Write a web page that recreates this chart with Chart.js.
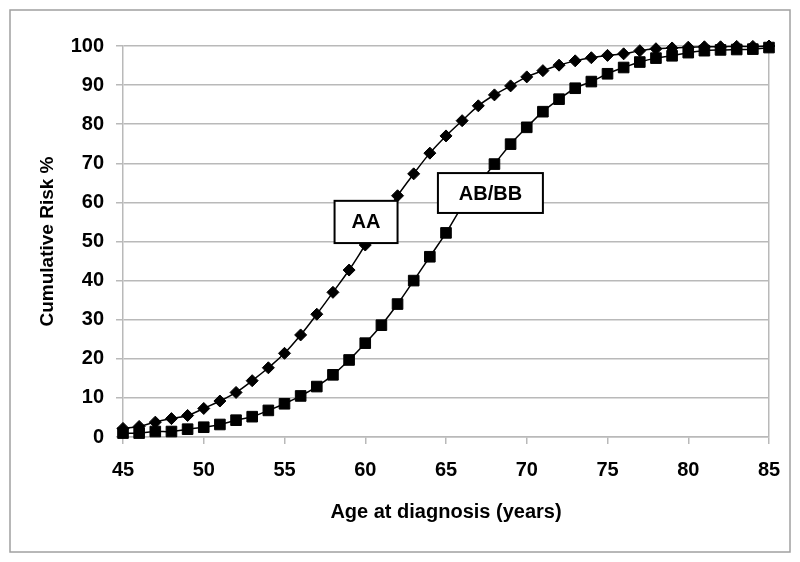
<!DOCTYPE html>
<html>
<head>
<meta charset="utf-8">
<script src="https://cdn.jsdelivr.net/npm/chart.js@4.4.0/dist/chart.umd.min.js"></script>
<style>
  html, body { margin: 0; padding: 0; background: #fff; }
</style>
</head>
<body>
<canvas id="risk-chart" width="800" height="562"></canvas>
<script>
// age at diagnosis, one point per year
var ages = [45, 46, 47, 48, 49, 50, 51, 52, 53, 54, 55, 56, 57, 58, 59, 60, 61, 62, 63, 64, 65,
  66, 67, 68, 69, 70, 71, 72, 73, 74, 75, 76, 77, 78, 79, 80, 81, 82, 83, 84, 85];

// cumulative risk %, genotype AA
var riskAA = [2.2, 2.7, 3.8, 4.7, 5.5, 7.3, 9.2, 11.4, 14.4, 17.7, 21.4, 26.1, 31.4, 37.0, 42.7, 49.1,
  55.4, 61.7, 67.3, 72.6, 77.0, 80.9, 84.7, 87.5, 89.8, 92.1, 93.7, 95.1, 96.2, 97.0, 97.6,
  98.0, 98.8, 99.3, 99.5, 99.7, 99.8, 99.8, 99.9, 99.9, 100];

// cumulative risk %, genotype AB/BB
var riskABBB = [1.0, 1.0, 1.4, 1.4, 2.0, 2.5, 3.2, 4.3, 5.2, 6.8, 8.5, 10.5, 12.9, 15.9, 19.7, 24.0,
  28.6, 34.0, 40.0, 46.1, 52.2, 59.0, 64.6, 69.8, 74.9, 79.2, 83.2, 86.4, 89.2, 90.9, 92.9,
  94.5, 95.9, 96.9, 97.5, 98.3, 98.8, 99.0, 99.1, 99.2, 99.6];

var seriesNames = ['AA', 'AB/BB'];

// callout boxes, in axis units
var calloutBoxes = [
  { text: seriesNames[0], xFrom: 58.1, xTo: 62.0, yFrom: 49.6, yTo: 60.4 },
  { text: seriesNames[1], xFrom: 64.5, xTo: 71.0, yFrom: 57.3, yTo: 67.5 }
];

var gridGrey = '#b9b9b9';
var fontFamily = "'Liberation Sans', Arial, sans-serif";

function toPoints(xs, ys) {
  return xs.map(function (x, i) { return { x: x, y: ys[i] }; });
}

var frameAndCallouts = {
  id: 'frameAndCallouts',
  beforeDraw: function (chart) {
    var ctx = chart.ctx;
    ctx.save();
    ctx.fillStyle = '#fff';
    ctx.fillRect(0, 0, chart.width, chart.height);
    ctx.strokeStyle = '#a0a0a0';
    ctx.lineWidth = 1.5;
    ctx.strokeRect(10, 10, 780, 542);
    ctx.restore();
  },
  afterDatasetsDraw: function (chart) {
    var ctx = chart.ctx;
    var xs = chart.scales.x, ys = chart.scales.y;
    ctx.save();
    calloutBoxes.forEach(function (b) {
      var left = xs.getPixelForValue(b.xFrom);
      var right = xs.getPixelForValue(b.xTo);
      var top = ys.getPixelForValue(b.yTo);
      var bottom = ys.getPixelForValue(b.yFrom);
      ctx.fillStyle = '#fff';
      ctx.fillRect(left, top, right - left, bottom - top);
      ctx.strokeStyle = '#000';
      ctx.lineWidth = 2;
      ctx.strokeRect(left, top, right - left, bottom - top);
      ctx.fillStyle = '#000';
      ctx.font = 'bold 20px ' + fontFamily;
      ctx.textAlign = 'center';
      ctx.textBaseline = 'middle';
      ctx.fillText(b.text, (left + right) / 2, (top + bottom) / 2 + 1);
    });
    ctx.restore();
  }
};

Chart.defaults.font.family = fontFamily;
Chart.defaults.color = '#000';

var chart = new Chart(document.getElementById('risk-chart').getContext('2d'), {
  type: 'line',
  data: {
    datasets: [{
      label: seriesNames[0],
      data: toPoints(ages, riskAA),
      borderColor: '#000',
      backgroundColor: '#000',
      borderWidth: 1.5,
      tension: 0.4,
      pointStyle: 'rectRot',
      pointRadius: 6,
      pointBorderWidth: 1,
      clip: false
    }, {
      label: seriesNames[1],
      data: toPoints(ages, riskABBB),
      borderColor: '#000',
      backgroundColor: '#000',
      borderWidth: 1.5,
      tension: 0.4,
      pointStyle: 'rect',
      pointRadius: 7.5,
      pointBorderWidth: 1,
      clip: false
    }]
  },
  options: {
    responsive: false,
    animation: false,
    layout: { padding: { left: 20, top: 46, right: 31, bottom: 20 } },
    plugins: {
      legend: { display: false },
      tooltip: { enabled: false }
    },
    scales: {
      x: {
        type: 'linear',
        min: 45,
        max: 85,
        afterFit: function (scale) { scale.height = 105; },
        afterBuildTicks: function (scale) {
          scale.ticks = [45, 50, 55, 60, 65, 70, 75, 80, 85].map(function (v) { return { value: v }; });
        },
        grid: {
          color: function (c) { return c.tick && c.tick.value === 85 ? gridGrey : 'rgba(0,0,0,0)'; },
          tickColor: gridGrey,
          lineWidth: 1.5,
          tickLength: 7
        },
        border: { color: gridGrey, width: 1.5 },
        ticks: { font: { size: 20, weight: 'bold' }, padding: 14, maxRotation: 0 },
        title: {
          display: true,
          text: 'Age at diagnosis (years)',
          font: { size: 20, weight: 'bold' },
          padding: { top: 0, bottom: 18 }
        }
      },
      y: {
        min: 0,
        max: 100,
        afterFit: function (scale) { scale.width = 103; },
        ticks: { stepSize: 10, font: { size: 20, weight: 'bold' }, padding: 12 },
        grid: { color: gridGrey, lineWidth: 1.5, tickLength: 7 },
        border: { color: gridGrey, width: 1.5 },
        title: {
          display: true,
          text: 'Cumulative Risk %',
          font: { size: 19, weight: 'bold' },
          padding: { top: 16, bottom: 0 }
        }
      }
    }
  },
  plugins: [frameAndCallouts]
});
</script>
</body>
</html>
